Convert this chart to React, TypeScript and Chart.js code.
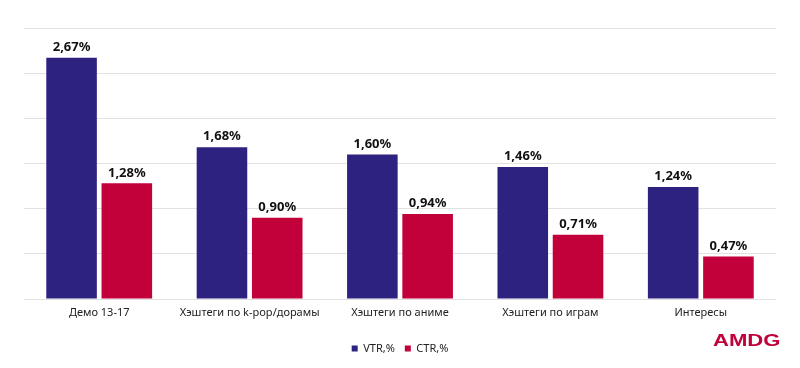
import React, { useEffect, useRef } from "react";
import { Chart, registerables } from "chart.js";

Chart.register(...registerables);

const categories = ["Демо 13-17", "Хэштеги по k-pop/дорамы", "Хэштеги по аниме", "Хэштеги по играм", "Интересы"];
const vtrValues = [2.67, 1.68, 1.6, 1.46, 1.24];
const ctrValues = [1.28, 0.9, 0.94, 0.71, 0.47];
const seriesNames = ["VTR,%", "CTR,%"];

const FONT = "'Noto Sans', sans-serif";

const valueLabels = {
  id: "valueLabels",
  afterDatasetsDraw(chart: any) {
    const ctx = chart.ctx;
    ctx.save();
    ctx.font = `bold 13px ${FONT}`;
    ctx.fillStyle = "#111111";
    ctx.textAlign = "center";
    ctx.textBaseline = "bottom";
    chart.data.datasets.forEach((ds: any, i: number) => {
      const meta = chart.getDatasetMeta(i);
      meta.data.forEach((el: any, j: number) => {
        const v = ds.data[j] as number;
        ctx.fillText(v.toFixed(2).replace(".", ",") + "%", el.x, el.y - 4);
      });
    });
    ctx.restore();
  },
};

export default function App() {
  const ref = useRef<HTMLCanvasElement>(null);
  useEffect(() => {
    const chart = new Chart(ref.current!, {
      type: "bar",
      data: {
        labels: categories,
        datasets: [
          { label: seriesNames[0], data: vtrValues, backgroundColor: "#2e2280" },
          { label: seriesNames[1], data: ctrValues, backgroundColor: "#c20039" },
        ],
      },
      options: {
        animation: false,
        responsive: false,
        maintainAspectRatio: false,
        layout: { padding: { top: 28, left: 24, right: 24, bottom: 4 } },
        datasets: { bar: { categoryPercentage: 0.735, barPercentage: 0.915 } },
        scales: {
          x: {
            grid: { display: false, drawTicks: false },
            border: { display: false },
            ticks: { color: "#222222", font: { family: FONT, size: 11 }, padding: 7, maxRotation: 0 },
            afterFit: (s: any) => { s.height = 34; },
          },
          y: {
            min: 0,
            max: 3,
            ticks: { display: false, stepSize: 0.5 },
            grid: { color: "#e2e2e2", drawTicks: false },
            border: { display: false },
            afterFit: (s: any) => { s.width = 0; },
          },
        },
        plugins: {
          legend: {
            position: "bottom",
            labels: {
              boxWidth: 6,
              boxHeight: 6,
              padding: 10,
              color: "#222222",
              font: { family: FONT, size: 11 },
            },
          },
          tooltip: { enabled: false },
        },
      },
      plugins: [valueLabels],
    });
    return () => chart.destroy();
  }, []);
  return (
    <div style={{ position: "absolute", left: 0, top: 0, width: 800, height: 368, background: "#fff" }}>
      <canvas ref={ref} width={800} height={368} style={{ width: 800, height: 368 }} />
      <div
        style={{
          position: "absolute",
          left: 713,
          top: 331,
          fontFamily: "'Liberation Sans', Arial, sans-serif",
          fontWeight: 700,
          fontSize: 17,
          color: "#c20039",
          transform: "scaleX(1.3)",
          transformOrigin: "left top",
          lineHeight: "20px",
        }}
      >
        AMDG
      </div>
    </div>
  );
}
